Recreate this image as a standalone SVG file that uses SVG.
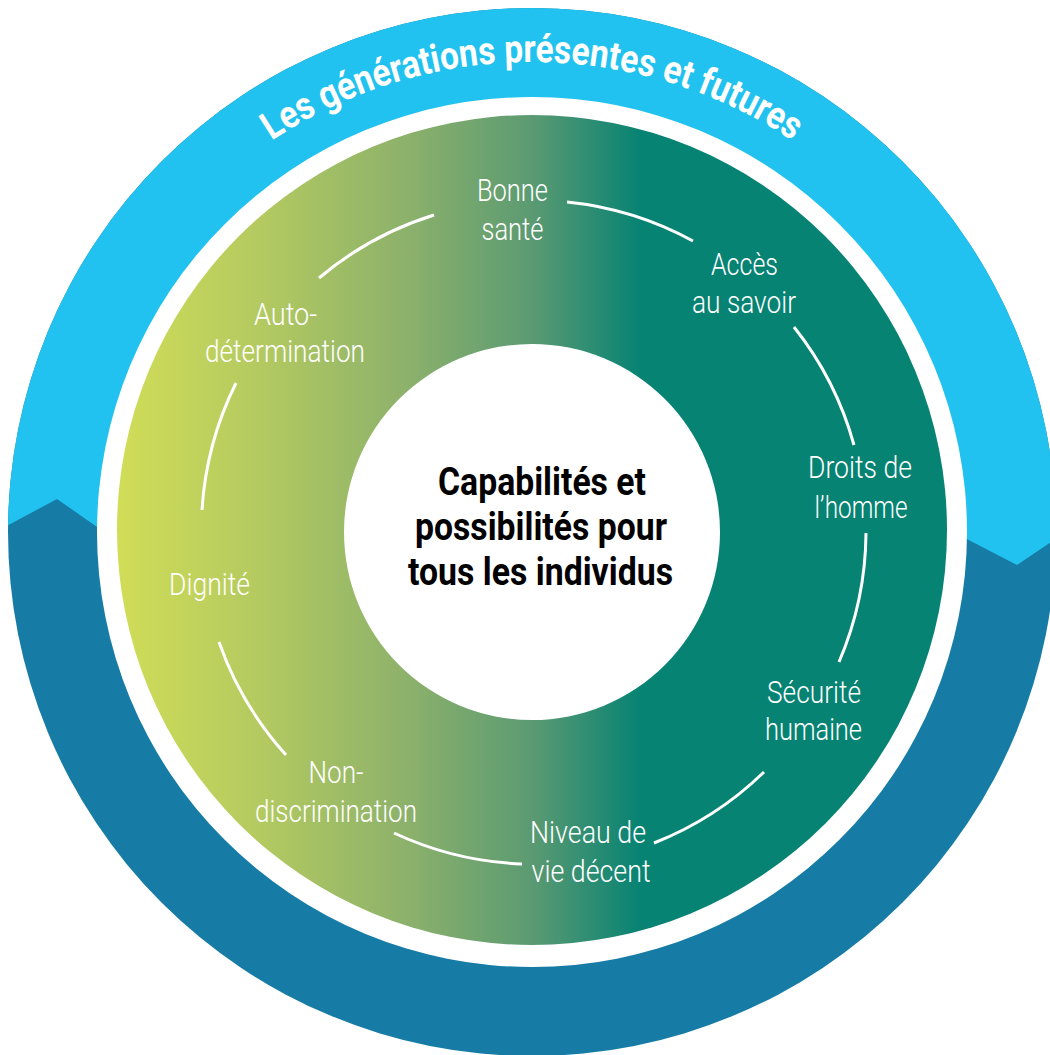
<svg xmlns="http://www.w3.org/2000/svg" xmlns:xlink="http://www.w3.org/1999/xlink" width="1050" height="1055" viewBox="0 0 1050 1055">
<style>
.lbl{font-family:Roboto,"Liberation Sans",sans-serif;font-weight:300;font-size:31px;fill:#ffffff;text-anchor:middle}
.ctr{font-family:Roboto,"Liberation Sans",sans-serif;font-weight:700;font-size:38px;fill:#000000;text-anchor:middle}
.ttl{font-family:Roboto,"Liberation Sans",sans-serif;font-weight:700;font-size:39px;fill:#ffffff}
.arc{fill:none;stroke:#ffffff;stroke-width:3}
</style>
<defs>
<linearGradient id="grad" gradientUnits="userSpaceOnUse" x1="117" y1="0" x2="947" y2="0">
<stop offset="0" stop-color="#D1DD57"/>
<stop offset="0.18" stop-color="#B2C961"/>
<stop offset="0.35" stop-color="#8CB16B"/>
<stop offset="0.5" stop-color="#5B9A72"/>
<stop offset="0.63" stop-color="#078373"/>
<stop offset="1" stop-color="#078373"/>
</linearGradient>
<clipPath id="outerClip"><circle cx="532" cy="532" r="524"/></clipPath>
<path id="titlePath" d="M 62 532 A 470 470 0 0 1 1002 532"/>
</defs>
<rect x="0" y="0" width="1050" height="1055" fill="#ffffff"/>
<g id="outer-ring">
<circle cx="532" cy="532" r="524" fill="#167CA5"/>
<polygon clip-path="url(#outerClip)" fill="#21C2EF" points="-10,535 57,499 130,550 930,520 1017,565 1060,536 1060,-10 -10,-10"/>
<circle cx="532" cy="532" r="435" fill="#ffffff"/>
</g>
<g id="title">
<text class="ttl"><textPath xlink:href="#titlePath" href="#titlePath" startOffset="50%" text-anchor="middle" textLength="552" lengthAdjust="spacingAndGlyphs">Les générations présentes et futures</textPath></text>
</g>
<g id="inner-ring">
<circle cx="532" cy="530" r="415" fill="url(#grad)"/>
</g>
<g id="connectors">
<path class="arc" d="M 319 278 A 332 332 0 0 1 434 215"/>
<path class="arc" d="M 567 202 A 332 332 0 0 1 693 241"/>
<path class="arc" d="M 794 327 A 332 332 0 0 1 854 445"/>
<path class="arc" d="M 866 533 A 332 332 0 0 1 839 662"/>
<path class="arc" d="M 764 772 A 332 332 0 0 1 654 843"/>
<path class="arc" d="M 522 864 A 332 332 0 0 1 394 833"/>
<path class="arc" d="M 286 755 A 332 332 0 0 1 219 642"/>
<path class="arc" d="M 202 510 A 332 332 0 0 1 236 383"/>
</g>
<g id="node-bonne-sante">
<text class="lbl" x="512.5" y="201" textLength="71" lengthAdjust="spacingAndGlyphs">Bonne</text>
<text class="lbl" x="512.5" y="240" textLength="62" lengthAdjust="spacingAndGlyphs">santé</text>
</g>
<g id="node-acces-savoir">
<text class="lbl" x="744.5" y="275" textLength="67" lengthAdjust="spacingAndGlyphs">Accès</text>
<text class="lbl" x="744" y="313" textLength="104" lengthAdjust="spacingAndGlyphs">au savoir</text>
</g>
<g id="node-droits-homme">
<text class="lbl" x="860" y="478" textLength="104" lengthAdjust="spacingAndGlyphs">Droits de</text>
<text class="lbl" x="861" y="518" textLength="93" lengthAdjust="spacingAndGlyphs">l’homme</text>
</g>
<g id="node-securite-humaine">
<text class="lbl" x="814" y="703" textLength="94" lengthAdjust="spacingAndGlyphs">Sécurité</text>
<text class="lbl" x="813.5" y="740" textLength="97" lengthAdjust="spacingAndGlyphs">humaine</text>
</g>
<g id="node-niveau-vie">
<text class="lbl" x="588" y="843" textLength="116" lengthAdjust="spacingAndGlyphs">Niveau de</text>
<text class="lbl" x="591" y="882" textLength="119" lengthAdjust="spacingAndGlyphs">vie décent</text>
</g>
<g id="node-non-discrimination">
<text class="lbl" x="336" y="783" textLength="55" lengthAdjust="spacingAndGlyphs">Non-</text>
<text class="lbl" x="336" y="822" textLength="162" lengthAdjust="spacingAndGlyphs">discrimination</text>
</g>
<g id="node-dignite">
<text class="lbl" x="209.5" y="595" textLength="81" lengthAdjust="spacingAndGlyphs">Dignité</text>
</g>
<g id="node-autodetermination">
<text class="lbl" x="285.5" y="325" textLength="63" lengthAdjust="spacingAndGlyphs">Auto-</text>
<text class="lbl" x="285" y="362" textLength="160" lengthAdjust="spacingAndGlyphs">détermination</text>
</g>
<g id="node-center">
<circle cx="532" cy="532" r="188" fill="#ffffff"/>
<text class="ctr" x="542" y="495" textLength="208" lengthAdjust="spacingAndGlyphs">Capabilités et</text>
<text class="ctr" x="541" y="540" textLength="252" lengthAdjust="spacingAndGlyphs">possibilités pour</text>
<text class="ctr" x="540.5" y="585" textLength="265" lengthAdjust="spacingAndGlyphs">tous les individus</text>
</g>
</svg>
